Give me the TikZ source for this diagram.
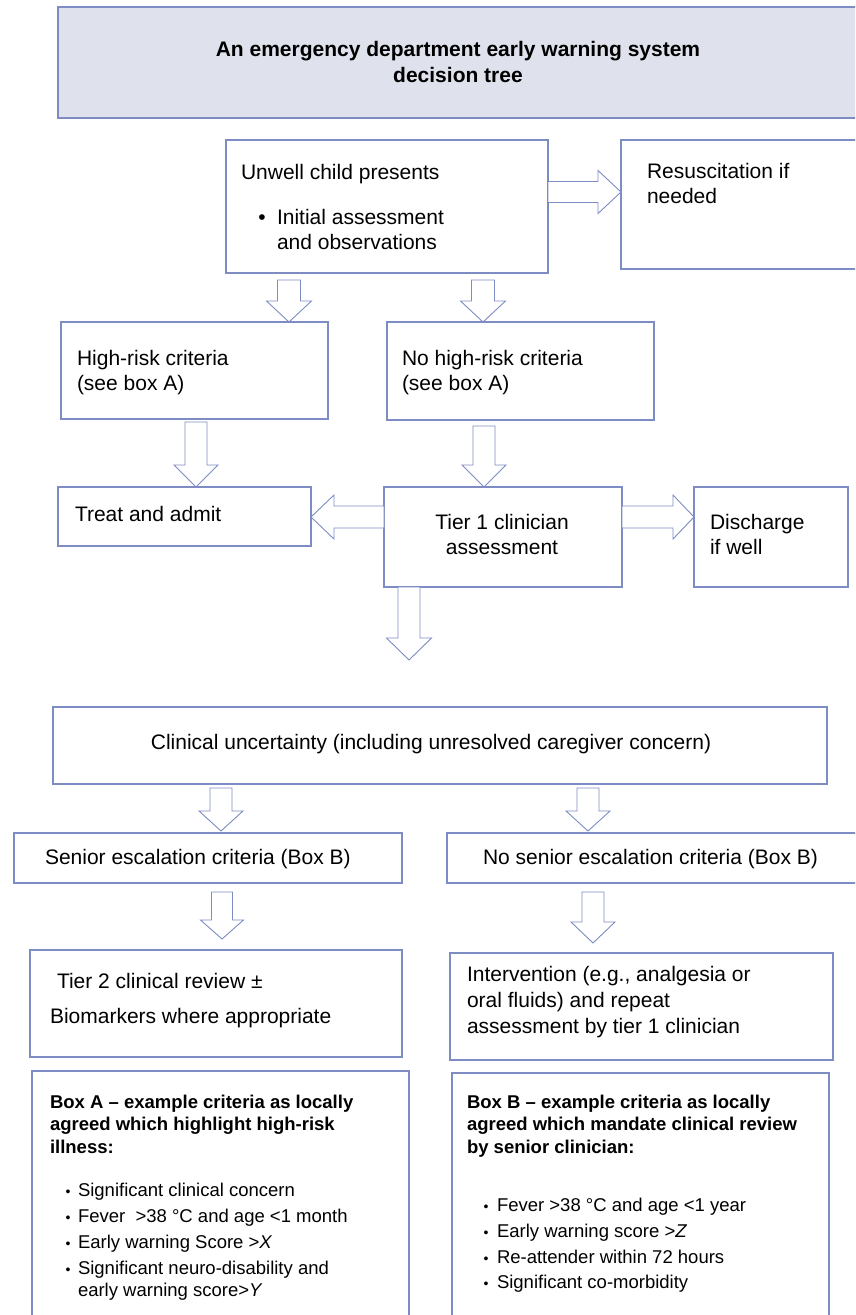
\documentclass[tikz,border=0pt]{standalone}
\usepackage{fontspec}
\setmainfont{Liberation Sans}
\usetikzlibrary{calc}
\definecolor{bord}{RGB}{125,140,195}
\definecolor{titlefill}{RGB}{223,226,236}
\newcommand\ml[1]{\begin{tabular}[t]{@{}l@{}}#1\end{tabular}}
\newcommand\mc[1]{\begin{tabular}[t]{@{}c@{}}#1\end{tabular}}
\newcommand\mkbox[6][box]{\node[#1, minimum width={(#5-#3)*1pt}, minimum height={(#6-#4)*1pt}] (#2) at ({(#3+#5)/2},{(#4+#6)/2}) {};}
% down block arrow: #1 top, #2 tip, #3 shaft half, #4 head half, #5 head length
\newcommand\darr[5]{\draw[barrow] let \p1=#1, \p2=#2 in
 (\x2-#3pt,\y1) -- (\x2+#3pt,\y1) -- (\x2+#3pt,\y2+#5pt) -- (\x2+#4pt,\y2+#5pt) -- (\x2,\y2)
 -- (\x2-#4pt,\y2+#5pt) -- (\x2-#3pt,\y2+#5pt) -- cycle;}
% horizontal block arrow: #1 start, #2 tip, #3 shaft half, #4 head half, #5 signed head length
\newcommand\harr[5]{\draw[barrow] let \p1=#1, \p2=#2 in
 (\x1,\y2+#3pt) -- (\x2-#5pt,\y2+#3pt) -- (\x2-#5pt,\y2+#4pt) -- (\x2,\y2) -- (\x2-#5pt,\y2-#4pt)
 -- (\x2-#5pt,\y2-#3pt) -- (\x1,\y2-#3pt) -- cycle;}
\tikzset{
 box/.style={draw=bord, line width=1.2pt, fill=white, inner sep=0pt, outer sep=0pt},
 titlebox/.style={box, fill=titlefill},
 barrow/.style={draw=bord, line width=0.9pt, fill=white, line join=miter},
 txt/.style={inner sep=0pt, outer sep=0pt, anchor=base west, font=\fontsize{21}{25}\selectfont},
 ctxt/.style={txt, anchor=base},
 ttl/.style={inner sep=0pt, outer sep=0pt, anchor=base, font=\fontsize{21}{26}\selectfont\bfseries},
 btxt/.style={inner sep=0pt, outer sep=0pt, anchor=base west, font=\fontsize{18.5}{22.5}\selectfont\bfseries},
 stxt/.style={inner sep=0pt, outer sep=0pt, anchor=base west, font=\fontsize{18.5}{26}\selectfont},
 sdot/.style={inner sep=0pt, outer sep=0pt, anchor=base, font=\fontsize{14}{14}\selectfont},
}
\begin{document}
\begin{tikzpicture}[x=1pt,y=-1pt]
\useasboundingbox (0,0) rectangle (855,1315);
\clip (0,0) rectangle (855,1315);
% title
\mkbox[titlebox]{title}{58}{7}{875}{118}
\node[ttl] (ttltext) at (458,56) {\mc{An emergency department early warning system\\decision tree}};
% row 1
\mkbox{unwell}{226}{140}{548}{273}
\mkbox{resus}{621}{140}{875}{269}
\node[txt] (t-unwell) at (241,179) {Unwell child presents};
\node[txt, anchor=base] (t-bul) at (262,224) {•};
\node[txt] (t-init) at (277,224) {\ml{Initial assessment\\and observations}};
\node[txt] (t-resus) at (647,178) {\ml{Resuscitation if\\needed}};
% row 2
\mkbox{high}{61}{322}{328}{419}
\mkbox{nohigh}{387}{322}{654}{420}
\node[txt] (t-high) at (77,365) {\ml{High-risk criteria\\(see box A)}};
\node[txt] (t-nohigh) at (402,365) {\ml{No high-risk criteria\\(see box A)}};
% row 3
\mkbox{treat}{58}{487}{311}{546}
\mkbox{tier1}{384}{487}{622}{587}
\mkbox{disch}{694}{487}{848}{587}
\node[txt] (t-treat) at (75,521) {Treat and admit};
\node[ctxt] (t-tier1) at (502,529) {\mc{Tier 1 clinician\\assessment}};
\node[txt] (t-disch) at (710,529) {\ml{Discharge\\if well}};
% clinical uncertainty
\mkbox{clin}{53}{707}{827}{784}
\node[ctxt] (t-clin) at (431,749) {Clinical uncertainty (including unresolved caregiver concern)};
% row 5
\mkbox{senior}{14}{833}{402}{883}
\mkbox{nosenior}{447}{833}{875}{883}
\node[txt] (t-senior) at (45,864) {Senior escalation criteria (Box B)};
\node[txt] (t-nosenior) at (483,864) {No senior escalation criteria (Box B)};
% row 6
\mkbox{tier2}{30}{950}{402}{1057}
\mkbox{interv}{450}{953}{833}{1060}
\node[txt] (t-tier2a) at (57,988) {Tier 2 clinical review ±};
\node[txt] (t-tier2b) at (50,1023) {Biomarkers where appropriate};
\node[txt, font=\fontsize{21}{26}\selectfont] (t-interv) at (467,981) {\ml{Intervention (e.g., analgesia or\\oral fluids) and repeat\\assessment by tier 1 clinician}};
% boxes A and B
\mkbox{boxA}{32}{1071}{409}{1330}
\mkbox{boxB}{452}{1073}{829}{1330}
\node[btxt] (t-boxA) at (50,1108) {\ml{Box A -- example criteria as locally\\agreed which highlight high-risk\\illness:}};
\node[btxt] (t-boxB) at (467,1108) {\ml{Box B -- example criteria as locally\\agreed which mandate clinical review\\by senior clinician:}};
\foreach \yy/\nm in {1196/a1,1222/a2,1248/a3,1274/a4}{\node[sdot] (d-\nm) at (68,\yy) {•};}
\node[stxt] (t-a1) at (78,1196) {Significant clinical concern};
\node[stxt] (t-a2) at (78,1222) {Fever\ \ >38 °C and age <1 month};
\node[stxt] (t-a3) at (78,1248) {Early warning Score >\textit{X}};
\node[stxt, font=\fontsize{18.5}{22}\selectfont] (t-a4) at (78,1274) {\ml{Significant neuro-disability and\\early warning score>\textit{Y}}};
\foreach \yy/\nm in {1211/b1,1237/b2,1263/b3,1288/b4}{\node[sdot] (d-\nm) at (486,\yy) {•};}
\node[stxt] (t-b1) at (497,1211) {Fever >38 °C and age <1 year};
\node[stxt] (t-b2) at (497,1237) {Early warning score >\textit{Z}};
\node[stxt] (t-b3) at (497,1263) {Re-attender within 72 hours};
\node[stxt] (t-b4) at (497,1288) {Significant co-morbidity};
% arrows
\harr{(unwell.east)}{(resus.west |- 0,192)}{10.5}{21.5}{23}
\darr{($(unwell.south -| 289,0)+(0,7)$)}{(high.north -| 289,0)}{11.5}{22.5}{21}
\darr{($(unwell.south -| 483,0)+(0,7)$)}{(nohigh.north -| 483,0)}{11.5}{22.5}{21}
\darr{($(high.south -| 196,0)+(0,3)$)}{(treat.north -| 196,0)}{11}{22}{22}
\darr{($(nohigh.south -| 484,0)+(0,6)$)}{(tier1.north -| 484,0)}{11}{22}{22}
\harr{(tier1.west |- 0,517)}{(treat.east |- 0,517)}{11}{22}{-23}
\harr{(tier1.east |- 0,517)}{(disch.west |- 0,517)}{11}{22}{21}
\coordinate (t1tip) at (409,660);
\darr{(tier1.south -| 409,0)}{(t1tip)}{11}{22.5}{22}
\darr{($(clin.south -| 221,0)+(0,4)$)}{($(senior.north -| 221,0)+(0,-2)$)}{11}{22}{20}
\darr{($(clin.south -| 588,0)+(0,4)$)}{($(nosenior.north -| 588,0)+(0,-2)$)}{11}{22}{20}
\darr{($(senior.south -| 222,0)+(0,9)$)}{($(tier2.north -| 222,0)+(0,-11)$)}{10.5}{21.5}{19}
\darr{($(nosenior.south -| 593,0)+(0,9)$)}{($(interv.north -| 593,0)+(0,-10)$)}{11}{22}{21}
\end{tikzpicture}
\end{document}
